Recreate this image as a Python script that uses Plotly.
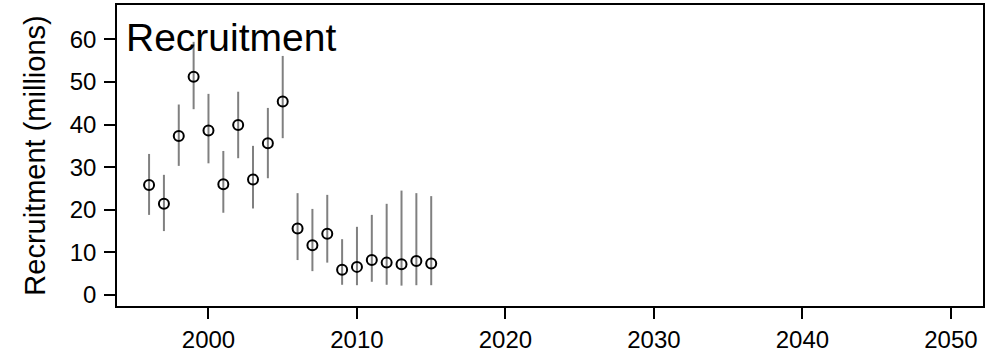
import plotly.graph_objects as go

# Annual recruitment estimates (millions) with interval bounds
years = list(range(1996, 2016))
recruitment = [25.8, 21.4, 37.3, 51.2, 38.6, 26.0, 39.9, 27.1, 35.6, 45.4,
               15.6, 11.7, 14.4, 5.9, 6.6, 8.2, 7.6, 7.2, 8.0, 7.4]
upper = [33.1, 28.2, 44.7, 59.4, 47.2, 33.8, 47.7, 35.0, 43.9, 56.1,
         23.9, 20.2, 23.5, 13.1, 16.0, 18.8, 21.4, 24.5, 23.9, 23.2]
lower = [18.8, 15.0, 30.3, 43.6, 30.9, 19.3, 32.1, 20.3, 27.4, 36.8,
         8.2, 5.6, 7.6, 2.4, 2.3, 3.1, 2.4, 2.2, 2.3, 2.3]

x_ticks = [2000, 2010, 2020, 2030, 2040, 2050]
y_ticks = [0, 10, 20, 30, 40, 50, 60]

FONT = "Liberation Sans, Arial, sans-serif"

fig = go.Figure()

# Vertical interval segments
seg_x, seg_y = [], []
for yr, lo, hi in zip(years, lower, upper):
    seg_x += [yr, yr, None]
    seg_y += [lo, hi, None]
fig.add_trace(go.Scatter(
    x=seg_x, y=seg_y, mode="lines",
    line=dict(color="#808080", width=2),
    hoverinfo="skip", showlegend=False,
))

# Point estimates as open circles
fig.add_trace(go.Scatter(
    x=years, y=recruitment, mode="markers",
    marker=dict(symbol="circle-open", size=10, color="black",
                line=dict(width=2, color="black")),
    showlegend=False,
))

fig.add_annotation(
    text="Recruitment", xref="paper", yref="paper",
    x=0.008, y=1.0, xanchor="left", yanchor="top", yshift=-9,
    showarrow=False, font=dict(family=FONT, size=39, color="black"),
)

fig.update_layout(
    width=992, height=355,
    margin=dict(l=117, r=9, t=5, b=49),
    paper_bgcolor="white", plot_bgcolor="white",
    font=dict(family=FONT, color="black"),
    xaxis=dict(
        range=[1993.84, 2052.16], tickvals=x_ticks,
        ticks="outside", ticklen=11, tickwidth=1.5, tickcolor="black",
        showline=True, mirror=True, linecolor="black", linewidth=1.5,
        showgrid=False, zeroline=False, automargin=False,
        tickfont=dict(family=FONT, size=24),
        ticklabelstandoff=0,
    ),
    yaxis=dict(
        range=[-2.58, 68.05], tickvals=y_ticks,
        ticks="outside", ticklen=11, tickwidth=1.5, tickcolor="black",
        showline=True, mirror=True, linecolor="black", linewidth=1.5,
        showgrid=False, zeroline=False, automargin=False,
        tickfont=dict(family=FONT, size=24),
        ticklabelstandoff=3,
        title=dict(text="Recruitment (millions)",
                   font=dict(family=FONT, size=29), standoff=16),
    ),
)

fig.write_html("out.html")
